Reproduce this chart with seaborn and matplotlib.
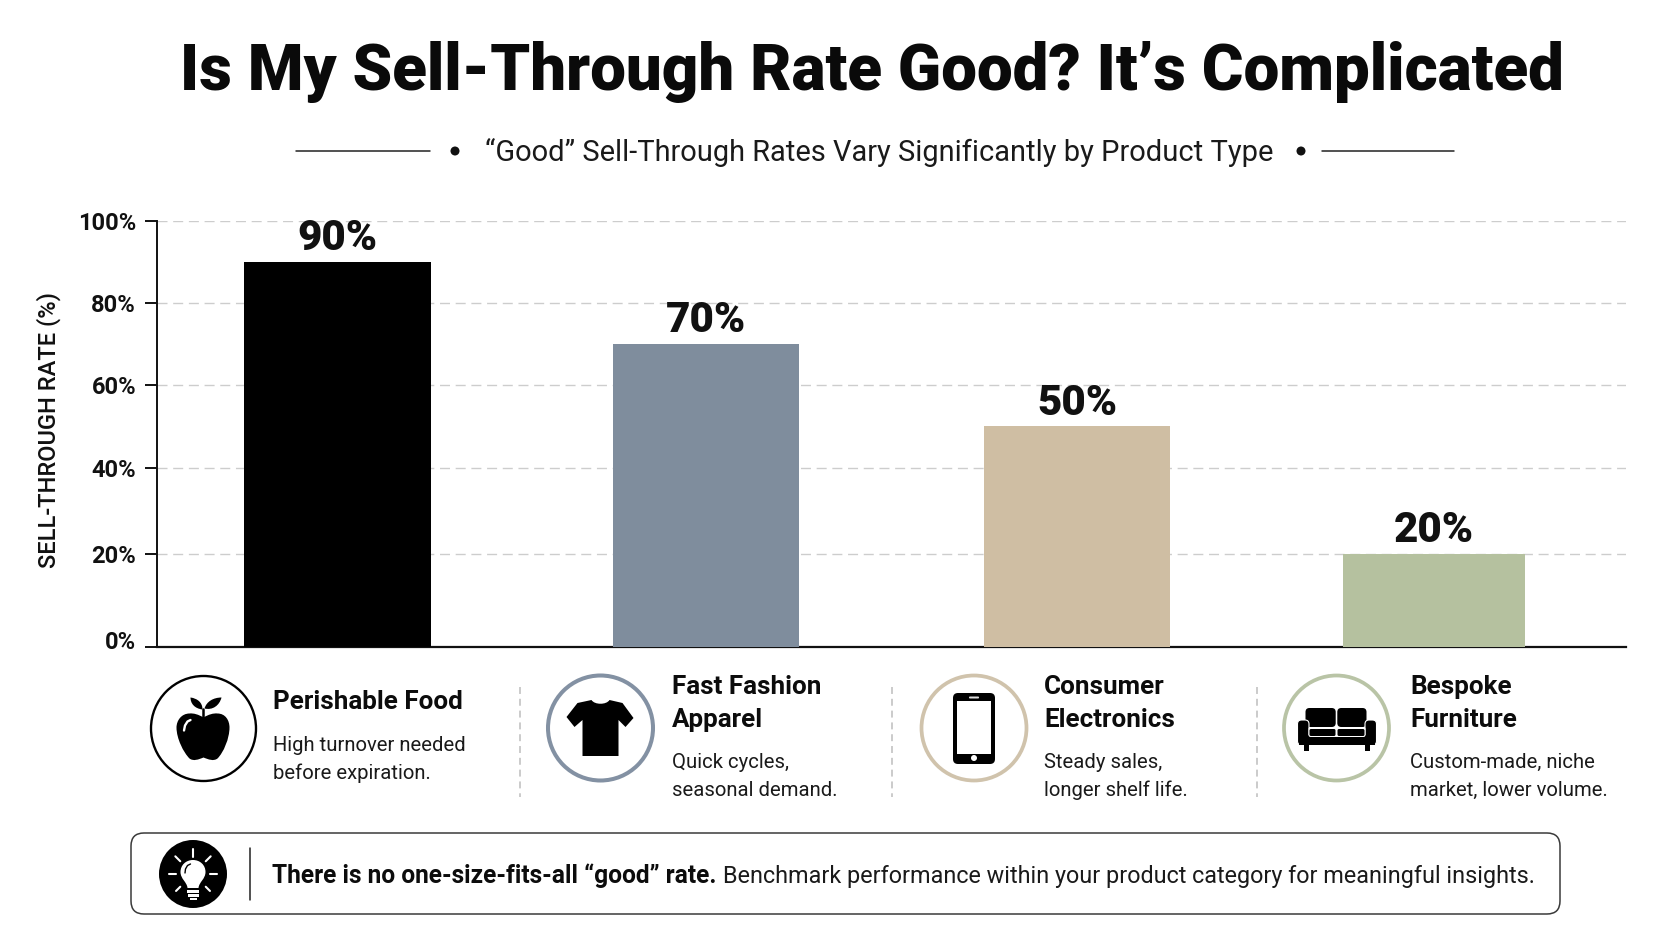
import numpy as np
import pandas as pd
import seaborn as sns
import matplotlib
matplotlib.use("Agg")
import matplotlib.pyplot as plt
from matplotlib.patches import Circle, FancyBboxPatch, PathPatch, Rectangle
from matplotlib.path import Path
from matplotlib.transforms import ScaledTranslation

W, H = 1672, 941

# Chart data
categories = ["Perishable Food", "Fast Fashion Apparel", "Consumer Electronics", "Bespoke Furniture"]
rates = [90, 70, 50, 20]
bar_colors = ["#000000", "#7f8d9d", "#cfbea3", "#b5c19f"]
ring_colors = ["#000000", "#8391a3", "#d0c3ac", "#b9c4a6"]
y_ticks = [0, 20, 40, 60, 80, 100]
y_tick_px = [647, 554, 468, 385, 303, 221]
bar_left_px = [244, 613, 984, 1343]
bar_right_px = [431, 799, 1170, 1525]

headings = [["Perishable Food"], ["Fast Fashion", "Apparel"], ["Consumer", "Electronics"], ["Bespoke", "Furniture"]]
details = [["High turnover needed", "before expiration."],
           ["Quick cycles,", "seasonal demand."],
           ["Steady sales,", "longer shelf life."],
           ["Custom-made, niche", "market, lower volume."]]

sns.set_theme(style="white")
plt.rcParams["font.family"] = ["Roboto", "DejaVu Sans"]
plt.rcParams["lines.scale_dashes"] = False

fig = plt.figure(figsize=(W / 100, H / 100), dpi=100, facecolor="white")


def size_for(sample, width_px, weight="normal"):
    """Font size at which the sample string spans the given pixel width."""
    t = fig.text(0, 0, sample, size=20, weight=weight)
    w = t.get_window_extent(fig.canvas.get_renderer()).width
    t.remove()
    return 20 * width_px / w


# Main axes, placed by pixel edges
ax = fig.add_axes([157 / W, 1 - 647 / H, (1626 - 157) / W, (647 - 221) / H])
frame = pd.DataFrame({"category": categories, "rate": rates})
sns.barplot(data=frame, x="category", y="rate", hue="category", order=categories, hue_order=categories,
            palette=bar_colors, legend=False, saturation=1, linewidth=0, ax=ax, zorder=3)

# The value axis has slightly uneven steps, expressed as a piecewise scale
px_fwd = np.array(y_tick_px, dtype=float)
ax.set_yscale("function", functions=(lambda v: np.interp(v, y_ticks, -px_fwd),
                                     lambda p: np.interp(p, -px_fwd, y_ticks)))
ax.set_ylim(0, 100)
ax.set_yticks(y_ticks)
ax.set_yticklabels([f"{v}%" for v in y_ticks])
ax.minorticks_off()

ax.set_xlim(157, 1626)
ax.set_xticks([])
ax.set_xlabel("")
for cont, left, right in zip(ax.containers, bar_left_px, bar_right_px):
    for rect in cont:
        rect.set_x(left)
        rect.set_width(right - left)

value_size = size_for("90%", 80, "black")
for cont in ax.containers:
    ax.bar_label(cont, fmt="%g%%", padding=2, fontsize=value_size, fontweight="black", color="#111111", zorder=4)

tick_size = size_for("100%", 58, "bold")
ax.tick_params(axis="y", length=8.6, width=1.4, color="#111111", pad=6.5, left=True,
               labelsize=tick_size, labelcolor="#111111")
for lab in ax.get_yticklabels():
    lab.set_fontweight("bold")
# The baseline label sits a little above its tick
zero_label = ax.get_yticklabels()[0]
zero_label.set_transform(zero_label.get_transform() + ScaledTranslation(0, 7 / 100, fig.dpi_scale_trans))

ax.yaxis.grid(True, color="#cdcdcd", linewidth=1.0, linestyle=(0, (7.2, 4.1)))
ax.set_axisbelow(True)
sns.despine(ax=ax, top=True, right=True)
ax.spines["left"].set_linewidth(1.4)
ax.spines["bottom"].set_linewidth(1.6)
ax.spines["left"].set_color("#111111")
ax.spines["bottom"].set_color("#111111")
ax.set_ylabel("")

# Overlay in pixel coordinates for header, captions and footer
ov = fig.add_axes([0, 0, 1, 1], facecolor="none")
ov.set_xlim(0, W)
ov.set_ylim(H, 0)
ov.axis("off")


def label(x, y, s, size, weight="normal", ha="left", color="#111111", **kw):
    return ov.text(x, y, s, fontsize=size, fontweight=weight, ha=ha, va="baseline", color=color, **kw)


def shape(cx, cy, commands, color="black", **kw):
    """Fill a small path given as (op, points) pairs relative to an icon centre."""
    verts, codes = [], []
    for op, pts in commands:
        code = {"M": Path.MOVETO, "L": Path.LINETO, "C": Path.CURVE4, "Z": Path.CLOSEPOLY}[op]
        if op == "Z":
            verts.append((cx, cy))
            codes.append(code)
            continue
        for p in pts:
            verts.append((cx + p[0], cy + p[1]))
            codes.append(code)
    kw.setdefault("linewidth", 0)
    patch = PathPatch(Path(verts, codes), facecolor=color, edgecolor=kw.pop("edgecolor", "none"), **kw)
    ov.add_patch(patch)
    return patch


def stroke(cx, cy, xs, ys, color="white", lw=1.8):
    ov.plot(np.add(xs, cx), np.add(ys, cy), color=color, lw=lw, solid_capstyle="round")


def rounded(x0, y0, x1, y1, r, color="black", **kw):
    ov.add_patch(FancyBboxPatch((x0 + r, y0 + r), x1 - x0 - 2 * r, y1 - y0 - 2 * r,
                                boxstyle=f"round,pad={r},rounding_size={r}", facecolor=color,
                                edgecolor=kw.pop("edgecolor", "none"), linewidth=kw.pop("linewidth", 0), **kw))


# Title and subtitle
label(W / 2 + 35.5, 90, "Is My Sell-Through Rate Good? It’s Complicated",
      size_for("Is My Sell-Through Rate Good? It’s Complicated", 1385, "black"), "black", ha="center", color="#0a0a0a")
sub = "“Good” Sell-Through Rates Vary Significantly by Product Type"
label(879, 161, sub, size_for(sub, 786), ha="center", color="#1a1a1a")
for x0, x1 in [(296, 430), (1322, 1454)]:
    ov.plot([x0, x1], [151, 151], color="#222222", lw=1.1)
for x in (455, 1301):
    ov.add_patch(Circle((x, 151), 4.5, color="#111111", lw=0))

# Axis title
ylab = "SELL-THROUGH RATE (%)"
ov.text(49, 430, ylab, rotation=90, ha="center", va="center", color="#111111",
        fontsize=size_for(ylab, 274, "medium"), fontweight="medium")

# Category captions
head_size = size_for("Perishable Food", 189, "bold")
body_size = size_for("High turnover needed", 192)
text_x = [273, 672, 1044, 1410.5]
head_base = [[709], [694, 727], [694, 727], [694, 727]]
body_base = [[751, 779], [768, 796], [768, 796], [768, 796]]
for x, heads, bodies, hb, bb in zip(text_x, headings, details, head_base, body_base):
    for s, y in zip(heads, hb):
        label(x, y, s, head_size, "bold", color="#0c0c0c")
    for s, y in zip(bodies, bb):
        label(x, y, s, body_size, color="#1a1a1a")

for x in (520, 892, 1257):
    ov.plot([x, x], [687, 797], color="#bdbdbd", lw=1.1, linestyle=(0, (5, 3.5)))

centers = [(203.5, 728.5), (600.5, 728), (974, 728), (1336.5, 728)]
ring_widths = [1.7, 2.9, 2.7, 2.7]
for (cx, cy), col, lw in zip(centers, ring_colors, ring_widths):
    ov.add_patch(Circle((cx, cy), 52.5, facecolor="white", edgecolor=col, linewidth=lw))

# Apple icon
cx, cy = centers[0]
shape(cx, cy, [("M", [(0, -11)]),
               ("C", [(5, -14), (10, -15.5), (14, -15)]), ("C", [(22, -15), (26, -8), (26, -1)]),
               ("C", [(26, 10), (20, 24), (14, 30)]), ("C", [(10, 33), (5, 31), (0, 29)]),
               ("C", [(-5, 31), (-10, 33), (-14, 30)]), ("C", [(-20, 24), (-27, 10), (-27, -1)]),
               ("C", [(-27, -8), (-22, -15), (-14, -15)]), ("C", [(-10, -15.5), (-5, -14), (0, -11)]), ("Z", [])])
shape(cx, cy, [("M", [(-1, -19)]), ("C", [(-9, -20), (-13, -25), (-13, -31)]),
               ("C", [(-6, -30), (-1, -26), (-1, -19)]), ("Z", [])])
shape(cx, cy, [("M", [(1, -20)]), ("C", [(3, -27), (10, -31), (18, -31)]),
               ("C", [(16, -23), (9, -18), (1, -20)]), ("Z", [])])
stroke(cx, cy, [-0.5, -0.5], [-20, -11], "black", 1.8)
stroke(cx, cy, [-19.5, -18.5, -16, -13], [2, -3, -7, -8.5], "white", 1.7)

# T-shirt icon
cx, cy = centers[1]
shape(cx, cy, [("M", [(-9, -28)]), ("C", [(-6, -23), (6, -23), (9, -28)]),
               ("L", [(22, -25), (33, -10), (25, -1), (18, -8), (18, 28), (-18, 28), (-18, -8), (-26, -1), (-34, -11),
                      (-23, -25)]), ("Z", [])])

# Smartphone icon
cx, cy = centers[2]
rounded(cx - 21, cy - 35, cx + 21, cy + 36, 5)
ov.add_patch(Rectangle((cx - 17, cy - 27), 34, 52.5, facecolor="white", linewidth=0))
rounded(cx - 5, cy - 31.5, cx + 5, cy - 29.5, 0.9, color="#dddddd")
ov.add_patch(Circle((cx, cy + 30), 3, color="white", lw=0))

# Sofa icon
cx, cy = centers[3]
rounded(cx - 31, cy - 20, cx - 0.8, cy - 1, 4)
rounded(cx + 0.8, cy - 20, cx + 30, cy - 1, 4)
rounded(cx - 39, cy - 8, cx - 27.5, cy + 17, 4, edgecolor="white", linewidth=0.8)
rounded(cx + 28.5, cy - 8, cx + 40, cy + 17, 4, edgecolor="white", linewidth=0.8)
ov.add_patch(Rectangle((cx - 37.5, cy + 7), 76, 10, facecolor="black", linewidth=0))
rounded(cx - 28, cy - 1, cx + 29, cy + 9, 2, color="white")
rounded(cx - 27, cy + 1, cx - 1, cy + 8, 1.5)
rounded(cx + 1, cy + 1, cx + 28, cy + 8, 1.5)
ov.add_patch(Rectangle((cx - 33, cy + 17), 5.5, 6, facecolor="black", linewidth=0))
ov.add_patch(Rectangle((cx + 28, cy + 17), 5.5, 6, facecolor="black", linewidth=0))

# Footer callout
ov.add_patch(FancyBboxPatch((143, 845), 1405, 57, boxstyle="round,pad=12,rounding_size=13",
                            facecolor="white", edgecolor="#3a3a3a", linewidth=1.1))
cx, cy = 193, 874
ov.add_patch(Circle((cx, cy), 34, color="black", lw=0))
for ang, r0, r1 in [(-90, 17, 25), (0, 17, 24), (180, 17, 24), (-45, 18, 25), (-135, 18, 25), (45, 18, 24), (135, 18, 24)]:
    c, s = np.cos(np.radians(ang)), np.sin(np.radians(ang))
    stroke(cx, cy, [r0 * c, r1 * c], [r0 * s, r1 * s], "white", 1.5)
shape(cx, cy, [("M", [(-5.5, 14)]), ("C", [(-6, 8), (-12.5, 5), (-12.5, -2)]),
               ("C", [(-12.5, -9), (-7, -14), (0, -14)]), ("C", [(7, -14), (12.5, -9), (12.5, -2)]),
               ("C", [(12.5, 5), (6, 8), (5.5, 14)]), ("Z", [])], color="white")
stroke(cx, cy, [-8, -7.5, -5.5, -2.5], [-1, -5, -8.5, -10], "black", 1.0)
ov.add_patch(Rectangle((cx - 6, cy + 16), 12, 2.6, facecolor="white", linewidth=0))
ov.add_patch(Rectangle((cx - 5.5, cy + 20), 11, 2.6, facecolor="white", linewidth=0))
ov.add_patch(Rectangle((cx - 3.5, cy + 24), 7, 2.2, facecolor="white", linewidth=0))
ov.plot([250, 250], [848, 900], color="#222222", lw=1.1)

bold_part = "There is no one-size-fits-all “good” rate."
plain_part = "Benchmark performance within your product category for meaningful insights."
label(272, 883, bold_part, size_for(bold_part, 443, "bold"), "bold", color="#0c0c0c")
label(723, 883, plain_part, size_for(plain_part, 811), color="#1a1a1a")

fig.savefig("out.png", dpi=100, facecolor="white")
